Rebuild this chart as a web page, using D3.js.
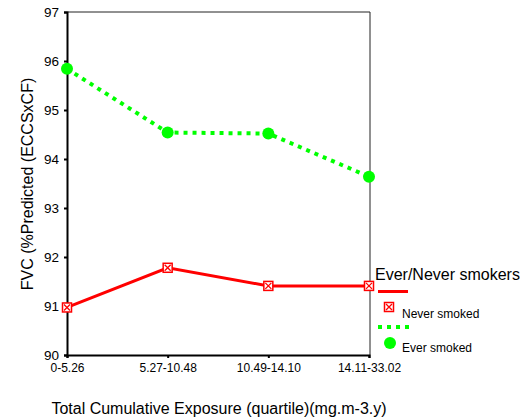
<!DOCTYPE html>
<html><head><meta charset="utf-8">
<script src="https://cdn.jsdelivr.net/npm/d3@7"></script>
<style>html,body{margin:0;padding:0;background:#fff;}svg{display:block;font-family:Arial,"Liberation Sans",sans-serif;}</style>
</head><body>
<svg id="c" width="520" height="419"></svg>
<script>
const categories = ["0-5.26","5.27-10.48","10.49-14.10","14.11-33.02"];
const neverSmoked = [90.97, 91.78, 91.41, 91.41];
const everSmoked = [95.84, 94.54, 94.52, 93.64];
const yTicks = [90,91,92,93,94,95,96,97];
const seriesNames = ["Never smoked","Ever smoked"];
const legendTitle = "Ever/Never smokers";
const yTitle = "FVC (%Predicted (ECCSxCF)";
const xTitle = "Total Cumulative Exposure (quartile)(mg.m-3.y)";

const FF = "Arial, 'Liberation Sans', sans-serif";
const svg = d3.select("#c");
const L = 67, R = 369, T = 12, B = 355;
const x = d3.scalePoint().domain(categories).range([L, R]).padding(0);
const y = d3.scaleLinear().domain([90, 97]).range([B, T]);

// frame top and right
svg.append("line").attr("x1", L).attr("x2", R+1).attr("y1", T).attr("y2", T).attr("stroke", "#222").attr("stroke-width", 1);
svg.append("line").attr("x1", R+1).attr("x2", R+1).attr("y1", T).attr("y2", B).attr("stroke", "#222").attr("stroke-width", 1);

// y axis
const ya = svg.append("g").attr("transform", `translate(${L},0)`)
  .call(d3.axisLeft(y).tickValues(yTicks).tickSize(3).tickPadding(5).tickFormat(d3.format("d")));
ya.select(".domain").attr("stroke", "#000").attr("stroke-width", 2);
ya.selectAll(".tick line").attr("stroke", "#000").attr("stroke-width", 2);
ya.selectAll(".tick text").attr("font-size", 13.5).attr("fill", "#000").attr("font-family", FF);

// x axis
const xa = svg.append("g").attr("transform", `translate(0,${B})`)
  .call(d3.axisBottom(x).tickSize(3).tickPadding(5));
xa.select(".domain").attr("stroke", "#000").attr("stroke-width", 2);
xa.selectAll(".tick line").attr("stroke", "#000").attr("stroke-width", 2);
xa.selectAll(".tick text").attr("font-size", 12).attr("fill", "#000").attr("font-family", FF);

// titles
svg.append("text").attr("transform", `translate(33,184) rotate(-90)`)
  .attr("text-anchor", "middle").attr("font-size", 16).attr("fill", "#000").text(yTitle);
svg.append("text").attr("x", 219).attr("y", 414).attr("text-anchor", "middle")
  .attr("font-size", 16).attr("fill", "#000").text(xTitle);

const line = d3.line().x((d, i) => x(categories[i])).y(d => y(d));

// green dotted
svg.append("path").datum(everSmoked).attr("d", line).attr("fill", "none")
  .attr("stroke", "#00ff00").attr("stroke-width", 4).attr("stroke-dasharray", "4,5");
svg.selectAll("circle.ev").data(everSmoked).enter().append("circle")
  .attr("cx", (d, i) => x(categories[i])).attr("cy", d => y(d)).attr("r", 6).attr("fill", "#00ff00");

// red line
svg.append("path").datum(neverSmoked).attr("d", line).attr("fill", "none")
  .attr("stroke", "#ff0000").attr("stroke-width", 3);
function redMarker(g, cx, cy) {
  const s = 4.5;
  g.append("rect").attr("x", cx - s).attr("y", cy - s).attr("width", 2*s).attr("height", 2*s)
    .attr("fill", "#fff").attr("stroke", "#ff0000").attr("stroke-width", 1.5);
  g.append("path").attr("d", `M${cx-s+1.5},${cy-s+1.5}L${cx+s-1.5},${cy+s-1.5}M${cx+s-1.5},${cy-s+1.5}L${cx-s+1.5},${cy+s-1.5}`)
    .attr("stroke", "#ff0000").attr("stroke-width", 1.3);
}
neverSmoked.forEach((d, i) => redMarker(svg, x(categories[i]), y(d)));

// legend
svg.append("text").attr("x", 375).attr("y", 280).attr("font-size", 16).attr("fill", "#000").text(legendTitle);
svg.append("line").attr("x1", 378).attr("x2", 408).attr("y1", 291.5).attr("y2", 291.5).attr("stroke", "#ff0000").attr("stroke-width", 3);
redMarker(svg, 389, 307);
svg.append("text").attr("x", 402).attr("y", 318).attr("font-size", 12).attr("fill", "#000").text(seriesNames[0]);
svg.append("line").attr("x1", 378).attr("x2", 410).attr("y1", 327).attr("y2", 327).attr("stroke", "#00ff00").attr("stroke-width", 4).attr("stroke-dasharray", "4,5");
svg.append("circle").attr("cx", 390).attr("cy", 343).attr("r", 6).attr("fill", "#00ff00");
svg.append("text").attr("x", 402).attr("y", 352).attr("font-size", 12).attr("fill", "#000").text(seriesNames[1]);
</script>
</body></html>
